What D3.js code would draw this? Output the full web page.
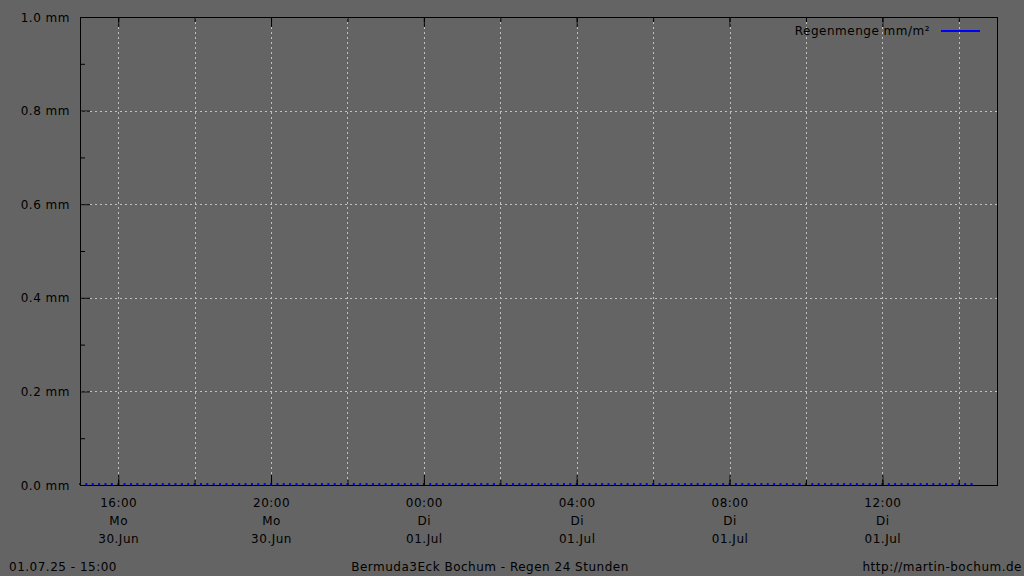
<!DOCTYPE html>
<html>
<head>
<meta charset="utf-8">
<script src="https://cdn.jsdelivr.net/npm/d3@7"></script>
<style>
  html, body { margin: 0; padding: 0; background: #646464; }
  svg { display: block; font-family: "DejaVu Sans", sans-serif; font-size: 12px; letter-spacing: 0.5px; }
  .axis path.domain { display: none; }
  .axis line { stroke: #000; }
  .axis text { fill: #000; font-family: "DejaVu Sans", sans-serif; font-size: 12px; }
</style>
</head>
<body>
<svg id="chart" width="1024" height="576"></svg>
<script>
// ---- data ----
const seriesName = "Regenmenge mm/m²";
const startTime  = new Date(2025, 5, 30, 15, 0);   // 30.Jun 15:00
const endTime    = new Date(2025, 6, 1, 15, 0);    // 01.Jul 15:00
const stepMinutes = 10;                            // one sample every 10 min
// rain per sample, one row per hour (15:00 .. 14:20)
const rain = [
  0, 0, 0, 0, 0, 0,   // 15h
  0, 0, 0, 0, 0, 0,   // 16h
  0, 0, 0, 0, 0, 0,   // 17h
  0, 0, 0, 0, 0, 0,   // 18h
  0, 0, 0, 0, 0, 0,   // 19h
  0, 0, 0, 0, 0, 0,   // 20h
  0, 0, 0, 0, 0, 0,   // 21h
  0, 0, 0, 0, 0, 0,   // 22h
  0, 0, 0, 0, 0, 0,   // 23h
  0, 0, 0, 0, 0, 0,   // 00h
  0, 0, 0, 0, 0, 0,   // 01h
  0, 0, 0, 0, 0, 0,   // 02h
  0, 0, 0, 0, 0, 0,   // 03h
  0, 0, 0, 0, 0, 0,   // 04h
  0, 0, 0, 0, 0, 0,   // 05h
  0, 0, 0, 0, 0, 0,   // 06h
  0, 0, 0, 0, 0, 0,   // 07h
  0, 0, 0, 0, 0, 0,   // 08h
  0, 0, 0, 0, 0, 0,   // 09h
  0, 0, 0, 0, 0, 0,   // 10h
  0, 0, 0, 0, 0, 0,   // 11h
  0, 0, 0, 0, 0, 0,   // 12h
  0, 0, 0, 0, 0, 0,   // 13h
  0, 0, 0            // 14h
];
const yMajor = [0, 0.2, 0.4, 0.6, 0.8, 1.0];
const yMinor = [0.1, 0.3, 0.5, 0.7, 0.9];
const dayNames = ["So", "Mo", "Di", "Mi", "Do", "Fr", "Sa"];
const monNames = ["Jan", "Feb", "Mär", "Apr", "Mai", "Jun", "Jul", "Aug", "Sep", "Okt", "Nov", "Dez"];
const footerLeft  = "01.07.25 - 15:00";
const footerMid   = "Bermuda3Eck Bochum - Regen 24 Stunden";
const footerRight = "http://martin-bochum.de";

// ---- layout ----
const svg = d3.select("#chart");
const m = { top: 17, right: 27, bottom: 91, left: 80 };
const W = 1024, H = 576;
const w = W - m.left - m.right, h = H - m.top - m.bottom;

const pts = rain.map((v, i) => ({ t: d3.timeMinute.offset(startTime, i * stepMinutes), v: v }));

const x = d3.scaleTime().domain([startTime, endTime]).range([0, w]);
const y = d3.scaleLinear().domain([0, 1]).range([h, 0]);

const g = svg.append("g").attr("transform", `translate(${m.left},${m.top})`);

const every2h = d3.timeHour.every(2);
const every4h = x.ticks(every2h).filter(d => d.getHours() % 4 === 0);

// grid
g.append("g").selectAll("line").data(x.ticks(every2h)).enter().append("line")
  .attr("x1", d => Math.round(x(d)) + 0.5).attr("x2", d => Math.round(x(d)) + 0.5)
  .attr("y1", 0).attr("y2", h)
  .attr("stroke", "#c0c0c0").attr("stroke-dasharray", "2,3");
g.append("g").selectAll("line").data(yMajor.slice(1, -1)).enter().append("line")
  .attr("x1", 0).attr("x2", w)
  .attr("y1", d => Math.round(y(d)) + 0.5).attr("y2", d => Math.round(y(d)) + 0.5)
  .attr("stroke", "#c0c0c0").attr("stroke-dasharray", "2,3");

// data points (all zero)
g.append("g").selectAll("rect").data(pts).enter().append("rect")
  .attr("x", d => x(d.t) - 1).attr("y", d => y(d.v) - 2)
  .attr("width", 2).attr("height", 2)
  .attr("fill", "#0000ff");

// ticks: bottom + top (minor 2h, major 4h)
g.append("g").attr("class", "axis").attr("transform", `translate(0,${h})`)
  .call(d3.axisBottom(x).ticks(every2h).tickSize(-5).tickFormat(""));
const xb = g.append("g").attr("class", "axis").attr("transform", `translate(0,${h})`)
  .call(d3.axisBottom(x).tickValues(every4h).tickSize(-10).tickPadding(18)
    .tickFormat(d => d3.timeFormat("%H:%M")(d)));
xb.selectAll(".tick text").each(function (d) {
  const t = d3.select(this);
  t.attr("dy", null).attr("dominant-baseline", "central");
  t.append("tspan").attr("x", 0).attr("dy", 18).text(dayNames[d.getDay()]);
  t.append("tspan").attr("x", 0).attr("dy", 18).text(d3.timeFormat("%d")(d) + "." + monNames[d.getMonth()]);
});
g.append("g").attr("class", "axis")
  .call(d3.axisTop(x).ticks(every2h).tickSize(-5).tickFormat(""));
g.append("g").attr("class", "axis")
  .call(d3.axisTop(x).tickValues(every4h).tickSize(-10).tickFormat(""));

// ticks: left
g.append("g").attr("class", "axis")
  .call(d3.axisLeft(y).tickValues(yMinor).tickSize(-5).tickFormat(""));
g.append("g").attr("class", "axis")
  .call(d3.axisLeft(y).tickValues(yMajor).tickSize(-10).tickPadding(10)
    .tickFormat(d => d.toFixed(1) + " mm"))
  .selectAll(".tick text").attr("dy", null).attr("dominant-baseline", "central");

// frame
g.append("rect").attr("x", 0.5).attr("y", 0.5).attr("width", w).attr("height", h)
  .attr("fill", "none").attr("stroke", "#000");

// legend
const lg = g.append("g").attr("transform", `translate(${w - 67},${14})`);
lg.append("text").attr("x", 0).attr("y", 0).attr("text-anchor", "end")
  .attr("dominant-baseline", "central").attr("fill", "#000").text(seriesName);
lg.append("line").attr("x1", 11).attr("x2", 50).attr("y1", 0).attr("y2", 0)
  .attr("stroke", "#0000ff").attr("stroke-width", 2);

// footer
svg.append("text").attr("x", 9).attr("y", 567).attr("dominant-baseline", "central")
  .attr("fill", "#000").text(footerLeft);
svg.append("text").attr("x", 490).attr("y", 567).attr("text-anchor", "middle")
  .attr("dominant-baseline", "central").attr("fill", "#000").text(footerMid);
svg.append("text").attr("x", 1022).attr("y", 567).attr("text-anchor", "end")
  .attr("dominant-baseline", "central").attr("fill", "#000").text(footerRight);
</script>
</body>
</html>
